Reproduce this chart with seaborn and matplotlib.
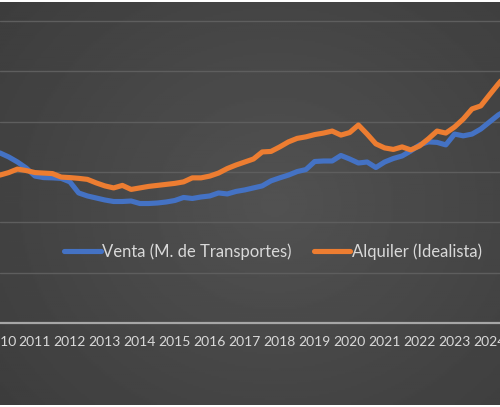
import numpy as np
import pandas as pd
import matplotlib
matplotlib.use("Agg")
import matplotlib.pyplot as plt
import seaborn as sns

# quarterly index values, starting 2010 Q1
start_year = 2010
venta = [107.6, 106.0, 104.0, 101.6, 98.4, 97.8, 97.7, 97.5, 96.1, 91.7,
         90.5, 89.7, 88.9, 88.3, 88.3, 88.5, 87.5, 87.5, 87.7, 88.1,
         88.7, 89.9, 89.5, 90.1, 90.5, 91.7, 91.3, 92.3, 92.9, 93.7,
         94.5, 96.5, 97.7, 98.8, 100.2, 101.0, 104.2, 104.4, 104.4, 106.6,
         105.2, 103.6, 104.0, 101.8, 104.0, 105.4, 106.4, 108.4, 110.8, 112.0,
         111.8, 110.8, 115.1, 114.4, 115.1, 117.1, 119.9, 122.7, 124.7]
alquiler = [98.8, 99.8, 101.2, 100.6, 99.8, 99.6, 99.4, 98.0, 97.8, 97.5,
            97.1, 95.7, 94.5, 93.7, 94.7, 93.1, 93.7, 94.3, 94.7, 95.1,
            95.5, 96.1, 97.7, 97.7, 98.4, 99.6, 101.4, 102.8, 104.0, 105.2,
            108.0, 108.2, 110.0, 112.0, 113.4, 114.0, 114.9, 115.5, 116.3, 114.7,
            115.7, 118.7, 115.1, 111.2, 109.6, 109.0, 110.0, 108.8, 110.4, 113.2,
            116.3, 115.5, 117.9, 121.1, 125.1, 126.3, 130.7, 135.0, 139.0]
years = list(range(2010, 2025))
series_names = ["Venta (M. de Transportes)", "Alquiler (Idealista)"]

t = start_year + np.arange(len(venta)) / 4
df = pd.DataFrame({
    "t": np.concatenate([t, t]),
    "valor": venta + alquiler,
    "serie": [series_names[0]] * len(venta) + [series_names[1]] * len(alquiler),
})

sns.set_theme(style="dark")
plt.rcParams["font.family"] = ["Lato", "DejaVu Sans"]

fig = plt.figure(figsize=(5, 4.07), dpi=100, facecolor="white")

# radial dark-gray background
bg = fig.add_axes([0, 0.005, 1, 0.99])
yy, xx = np.mgrid[-1:1:200j, -1:1:250j]
r = np.sqrt((xx - 0.1) ** 2 + (yy * 0.9) ** 2)
bg.imshow(0.32 - 0.08 * np.clip(r, 0, 1.4) / 1.4, cmap="gray", vmin=0, vmax=1,
          aspect="auto", extent=[0, 1, 0, 1])
bg.set_axis_off()

ax = fig.add_axes([0, 84 / 407, 1, 323 / 407])
ax.set_facecolor("none")
sns.lineplot(data=df, x="t", y="valor", hue="serie", hue_order=series_names,
             palette=["#4472C4", "#ED7D31"], linewidth=3.7, ax=ax,
             solid_joinstyle="round")

ax.set_xlim(2010.30, 2024.30)
ax.set_ylim(40, 168.4)
ax.set_yticks(range(60, 161, 20))
ax.set_xticks(years)
ax.set_xticklabels([str(y) for y in years])
ax.yaxis.grid(True, color="#5e5e5e", linewidth=1)
ax.xaxis.grid(False)
ax.tick_params(axis="x", length=0, pad=9, labelsize=10, colors="#d9d9d9")
ax.tick_params(axis="y", left=False, labelleft=False)
for s in ["top", "right", "left"]:
    ax.spines[s].set_visible(False)
ax.spines["bottom"].set_color("#a6a6a6")
ax.spines["bottom"].set_linewidth(1.6)
ax.set_xlabel("")
ax.set_ylabel("")

leg = ax.legend(loc="center", bbox_to_anchor=(0.546, 0.22), ncol=2, frameon=False,
                fontsize=12, handlelength=2.2, handletextpad=0.1, columnspacing=1.3)
for txt in leg.get_texts():
    txt.set_color("#d9d9d9")
for line in leg.get_lines():
    line.set_linewidth(3.7)

fig.savefig("out.png", dpi=100, facecolor="white")
